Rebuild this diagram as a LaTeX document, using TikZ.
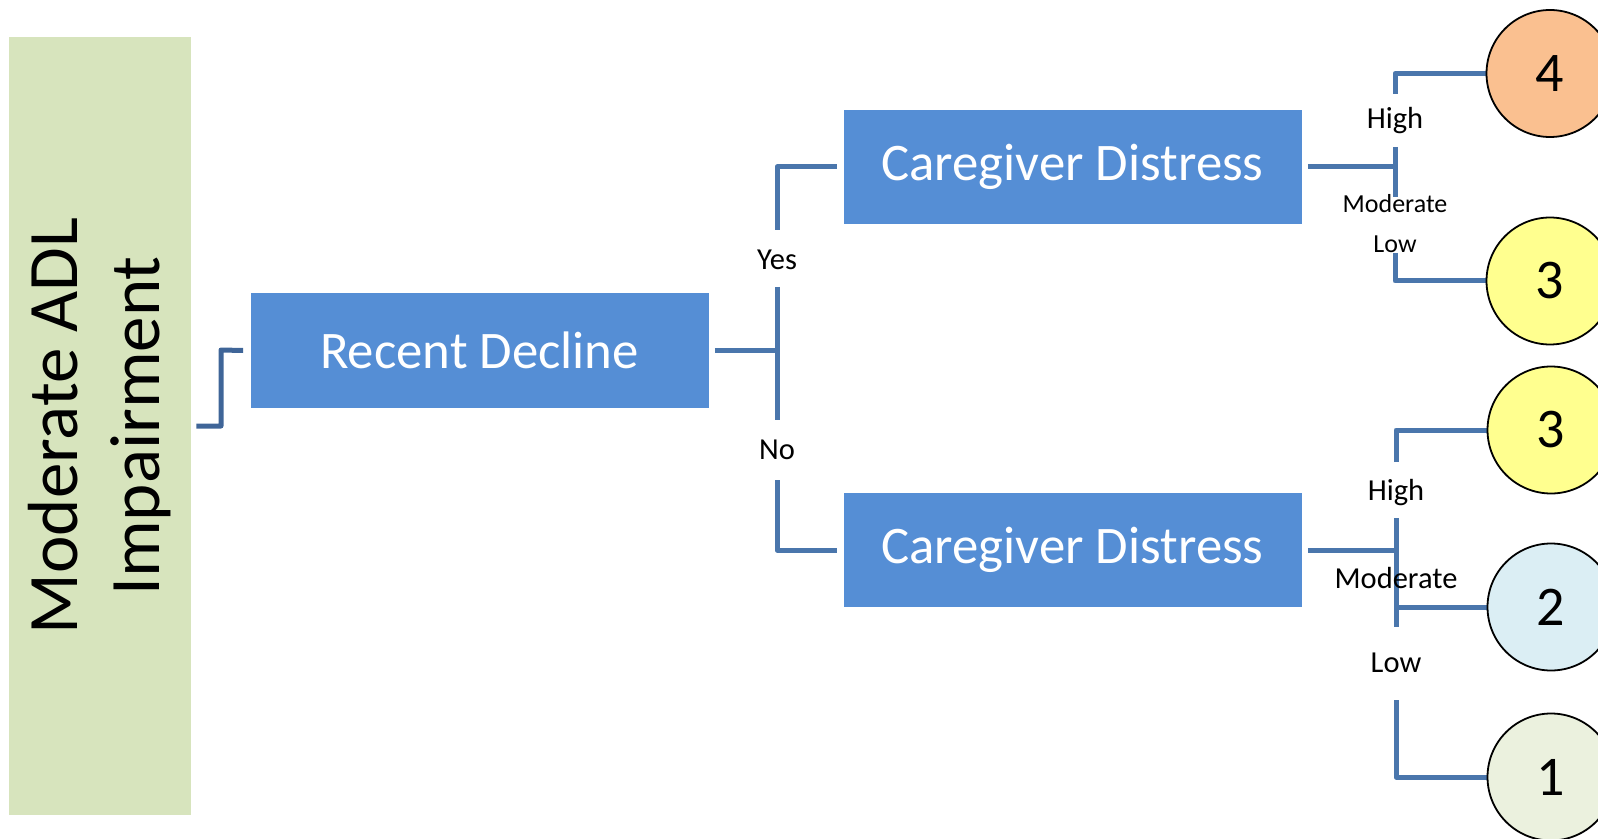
\documentclass[tikz,border=0pt]{standalone}
\usepackage{fontspec}
\setmainfont{Carlito}
\definecolor{adlgreen}{HTML}{D7E4BD}
\definecolor{boxblue}{HTML}{558ED5}
\definecolor{linkblue}{HTML}{4A76AC}
\definecolor{rootlink}{HTML}{3F6598}
\definecolor{scorefour}{HTML}{FAC090}
\definecolor{scorethree}{HTML}{FFFF8F}
\definecolor{scoretwo}{HTML}{DBEEF4}
\definecolor{scoreone}{HTML}{EBF1DE}
\pgfdeclarelayer{links}
\pgfsetlayers{links,main}
\begin{document}
\begin{tikzpicture}[x=0.5pt,y=-0.5pt,
  conn/.style={draw=linkblue, line width=2.5pt, line join=round},
  box/.style={fill=boxblue, text=white, font=\fontsize{26.4}{30}\selectfont,
    minimum width=229pt, minimum height=57pt, inner sep=0pt},
  score/.style={circle, draw=black, line width=0.9pt, minimum size=63.5pt,
    inner sep=0pt, font=\fontsize{28}{32}\selectfont},
  lbl/.style={font=\fontsize{15.25}{18}\selectfont, inner sep=0pt},
  lblsmall/.style={font=\fontsize{13}{15}\selectfont, inner sep=0pt}]
\useasboundingbox (0,0) rectangle (1598,839);

% root category (rotated; its south anchor faces right)
\node[rotate=90, fill=adlgreen, minimum width=389pt, minimum height=91pt,
  inner sep=0pt, align=center, font=\fontsize{35.5}{41}\selectfont]
  (adl) at (100,426) {Moderate ADL\\Impairment};

% decision boxes
\node[box] (rd)  at (479.5,350.5) {Recent Decline};
\node[box] (cg1) at (1072.5,167) {Caregiver Distress};
\node[box] (cg2) at (1072.5,550) {Caregiver Distress};

% outcome scores
\node[score, fill=scorefour]  (c4)  at (1550,73.5) {4};
\node[score, fill=scorethree] (c3a) at (1550,281)  {3};
\node[score, fill=scorethree] (c3b) at (1551,430)  {3};
\node[score, fill=scoretwo]   (c2)  at (1551,607)  {2};
\node[score, fill=scoreone]   (c1)  at (1551,777)  {1};

% branch labels
\node[lbl] (yes) at (777,260) {Yes};
\node[lbl] (no)  at (777,450) {No};
\node[lbl]      (high1) at (1395,121) {High};
\node[lblsmall] (mod1)  at (1395,204) {Moderate};
\node[lblsmall] (low1)  at (1395,244) {Low};
\node[lbl] (high2) at (1396,493) {High};
\node[lbl] (mod2)  at (1396,578) {Moderate};
\node[lbl] (low2)  at (1396,663) {Low};

\begin{pgfonlayer}{links}
% root to first decision
\coordinate (bend) at (221,350);
\draw[conn, draw=rootlink] ([xshift=2.5pt]adl.south) -| (bend) -- ([xshift=-3.5pt]rd.west);

% recent decline fork
\draw[conn] ([xshift=3pt]rd.east) -- (yes.center |- rd.east);
\draw[conn] ([yshift=-13.5pt]yes.center) -- ([yshift=15pt]no.center);
\draw[conn] ([yshift=15pt]yes.center) |- ([xshift=-3pt]cg1.west);
\draw[conn] ([yshift=-15pt]no.center) |- ([xshift=-3pt]cg2.west);

% upper caregiver distress fork
\draw[conn] ([xshift=3pt]cg1.east) -- (high1.center |- cg1.east);
\draw[conn] ([yshift=-13pt]high1.center) -- ([yshift=3.5pt]mod1.center);
\draw[conn] ([yshift=13.5pt]high1.center) |- (c4.west);
\draw[conn] ([yshift=-4.5pt]low1.center) |- (c3a.west);

% lower caregiver distress fork
\draw[conn] ([xshift=3pt]cg2.east) -- (high2.center |- cg2.east);
\draw[conn] ([yshift=-12.5pt]high2.center) -- ([yshift=-24.5pt]mod2.center);
\draw[conn] (high2.center |- c2.west) -- (c2.west);
\draw[conn] ([yshift=15.5pt]high2.center) |- (c3b.west);
\draw[conn] ([yshift=-18.5pt]low2.center) |- (c1.west);
\end{pgfonlayer}
\end{tikzpicture}
\end{document}
